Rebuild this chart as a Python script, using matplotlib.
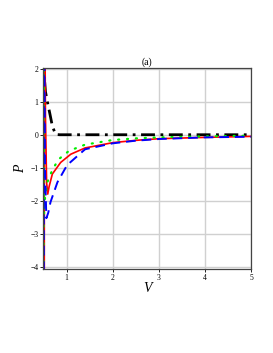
import matplotlib.pyplot as plt
import numpy as np

plt.rcParams['font.family'] = ['Liberation Serif', 'DejaVu Serif']

# values (V, P)
V_red = [0.515, 0.516, 0.54, 0.565, 0.59, 0.62, 0.69, 0.87, 1.09, 1.4, 2.0, 2.5, 3.0, 4.0, 5.0]
P_red = [-6.0, 6.0, 0.6, -1.42, -1.78, -1.55, -1.17, -0.82, -0.57, -0.38, -0.22, -0.15, -0.10, -0.06, -0.03]

V_green = [0.50, 0.501, 0.51, 0.53, 0.58, 0.64, 0.69, 0.83, 1.05, 1.4, 2.0, 2.5, 3.0, 4.0, 5.0]
P_green = [-6.0, 6.0, -2.4, -1.9, -1.42, -1.22, -1.04, -0.72, -0.47, -0.28, -0.14, -0.09, -0.06, -0.03, -0.01]

V_blue = [0.505, 0.506, 0.53, 0.56, 0.60, 0.65, 0.80, 1.01, 1.4, 2.0, 2.5, 3.0, 4.0, 5.0]
P_blue = [-6.0, 6.0, -1.0, -2.51, -2.35, -2.02, -1.42, -0.90, -0.42, -0.24, -0.16, -0.11, -0.06, -0.04]

V_black = [0.495, 0.496, 0.52, 0.54, 0.58, 0.64, 0.69, 0.76, 0.85, 1.0, 2.0, 3.0, 4.0, 5.0]
P_black = [-6.0, 6.0, 1.69, 1.33, 1.03, 0.63, 0.28, 0.03, 0.02, 0.02, 0.02, 0.02, 0.02, 0.02]

fig = plt.figure(figsize=(2.73, 3.53), dpi=100)
ax = fig.add_axes([0.158, 0.238, 0.762, 0.570])

ax.plot(V_black, P_black, color='black', lw=2.0, ls=(0, (5, 2, 1, 2)))
ax.plot(V_red, P_red, color='red', lw=1.2)
ax.plot(V_green, P_green, color='#00ee00', lw=1.6, ls=(0, (0.5, 3.5)), dash_capstyle='round')
ax.plot(V_blue, P_blue, color='blue', lw=1.4, ls=(0, (5, 3)))

ax.set_xlim(0.49, 5.0)
ax.set_ylim(-4.05, 2.05)
ax.set_xticks([1, 2, 3, 4, 5])
ax.set_yticks([-4, -3, -2, -1, 0, 1, 2])
ax.grid(True, color='#d0d0d0', lw=1.0)
ax.set_axisbelow(True)
ax.tick_params(labelsize=5.5, length=2, width=0.6, pad=1.5)
for s in ax.spines.values():
    s.set_color('#444444')
    s.set_linewidth(0.9)

ax.set_title('(a)', fontsize=7, pad=2)
ax.set_xlabel('V', fontsize=10, style='italic', labelpad=0)
ax.set_ylabel('P', fontsize=10, style='italic', labelpad=2)

plt.savefig('out.png', dpi=100)
